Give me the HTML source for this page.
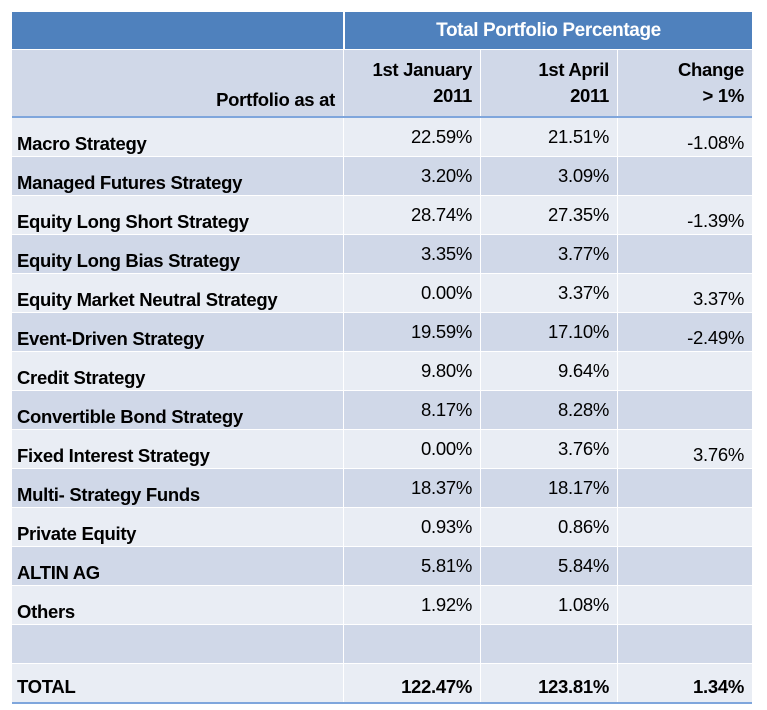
<!DOCTYPE html>
<html><head><meta charset="utf-8"><style>
body{margin:0;background:#fff;width:767px;height:708px;position:relative;overflow:hidden;font-family:"Liberation Sans",sans-serif;color:#000}
.c{position:absolute;box-sizing:border-box;white-space:nowrap}
.l{font-weight:bold;font-size:18.5px;padding-left:5px;letter-spacing:-0.3px}
.v{font-size:18.5px;text-align:right;padding-right:8px;letter-spacing:-0.3px}
.b{font-weight:bold}
</style></head><body>
<div id="t"></div>
<script>
const labels=["Macro Strategy","Managed Futures Strategy","Equity Long Short Strategy","Equity Long Bias Strategy","Equity Market Neutral Strategy","Event-Driven Strategy","Credit Strategy","Convertible Bond Strategy","Fixed Interest Strategy","Multi- Strategy Funds","Private Equity","ALTIN AG","Others",""];
const jan=["22.59%","3.20%","28.74%","3.35%","0.00%","19.59%","9.80%","8.17%","0.00%","18.37%","0.93%","5.81%","1.92%",""];
const apr=["21.51%","3.09%","27.35%","3.77%","3.37%","17.10%","9.64%","8.28%","3.76%","18.17%","0.86%","5.84%","1.08%",""];
const chg=["-1.08%","","-1.39%","","3.37%","-2.49%","","","3.76%","","","","",""];
const totals=["TOTAL","122.47%","123.81%","1.34%"];
const X=[12,343,480,617,752];
const t=document.getElementById('t');
function cell(x,y,w,h,bg,cls,txt,extra){const d=document.createElement('div');d.className='c '+cls;d.style.cssText=`left:${x}px;top:${y}px;width:${w}px;height:${h}px;background:${bg};${extra||''}`;d.textContent=txt;t.appendChild(d);return d;}
let h=cell(12,12,331,37,'#4f81bd','','');


h=cell(345,12,407,37,'#4f81bd','b','Total Portfolio Percentage','color:#fff;font-size:19px;text-align:center;line-height:37px;letter-spacing:-0.4px');


const hd=["Portfolio as at","1st January\n2011","1st April\n2011","Change\n> 1%"];
const hn=["header-portfolio-as-at","header-jan-2011","header-apr-2011","header-change"];
for(let i=0;i<4;i++){
 const d=cell(X[i]+(i?1:0),50,X[i+1]-X[i]-(i?1:0),67,'#d0d8e8','b',hd[i],'font-size:18.5px;text-align:right;padding-right:8px;white-space:pre;line-height:26px;letter-spacing:-0.3px;'+(i==0?'padding-top:39px;line-height:22px;':'padding-top:7px;'));
 
 
}
const ln=document.createElement('div');ln.className='c';ln.style.cssText='left:12px;top:116px;width:740px;height:2px;background:#7fa6dc';t.appendChild(ln);


for(let r=0;r<labels.length;r++){
 const y=118+r*39, bg=r%2?'#d0d8e8':'#e9edf4';
 const vals=[labels[r],jan[r],apr[r],chg[r]];
 for(let i=0;i<4;i++){
  const d=cell(X[i]+(i?1:0),y,X[i+1]-X[i]-(i?1:0),38,bg,i?'v':'l',vals[i],i==0?'line-height:51px':(i==3?'line-height:50px':'line-height:38px'));
  
  
 }
}
const ty=118+14*39;
for(let i=0;i<4;i++){
 const d=cell(X[i]+(i?1:0),ty,X[i+1]-X[i]-(i?1:0),38,'#e9edf4',(i?'v':'l')+' b',totals[i],'line-height:46px');
 
 
}
const bl=document.createElement('div');bl.className='c';bl.style.cssText=`left:12px;top:${ty+38}px;width:740px;height:2px;background:#7fa6dc`;t.appendChild(bl);


</script>
</body></html>
